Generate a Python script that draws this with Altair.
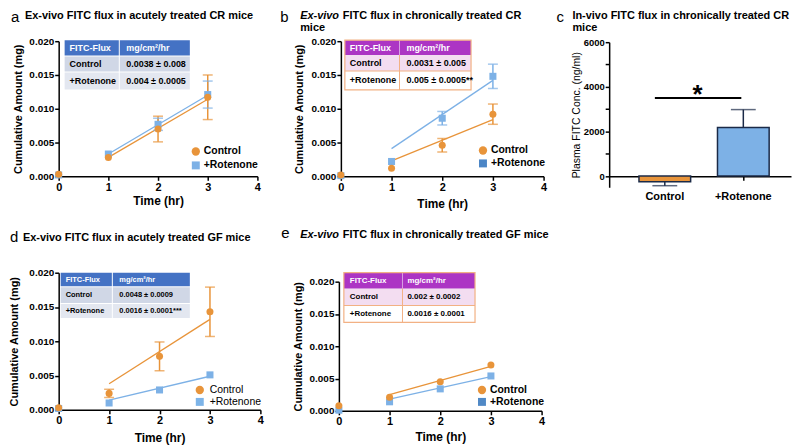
import altair as alt
import pandas as pd

FONT = "Liberation Sans"

# ---------------- data ----------------
hours = [0, 1, 2, 3]
fit_hours = [1, 3]
series = ["Control", "+Rotenone"]
table_head = ["FITC-Flux", "mg/cm²/hr"]

# panel a: ex-vivo, acutely treated CR mice
a_ctrl = [0.0003, 0.0028, 0.0070, 0.0117]
a_ctrl_err = [0.0, 0.0, 0.0019, 0.0033]
a_rot = [0.0002, 0.0033, 0.0077, 0.0121]
a_rot_err = [0.0, 0.0, 0.0009, 0.0020]
a_fit_ctrl = [0.0028, 0.0114]
a_fit_rot = [0.0033, 0.0120]
a_table = [["Control", "0.0038 ± 0.008"], ["+Rotenone", "0.004 ± 0.0005"]]

# panel b: ex-vivo, chronically treated CR mice
b_ctrl = [0.0002, 0.0012, 0.0046, 0.0092]
b_ctrl_err = [0.0, 0.0, 0.0010, 0.0015]
b_rot = [0.0001, 0.0022, 0.0086, 0.0148]
b_rot_err = [0.0, 0.0, 0.0010, 0.0018]
b_fit_ctrl = [0.0023, 0.0084]
b_fit_rot = [0.0041, 0.0142]
b_table = [["Control", "0.0031 ± 0.005"], ["+Rotenone", "0.005 ± 0.0005**"]]

# panel c: in-vivo plasma FITC
c_groups = ["Control", "+Rotenone"]
c_means = [-250, 2180]
c_err_ends = [-430, 2980]
c_sig_level = 3500

# panel d: ex-vivo, acutely treated GF mice
d_ctrl = [0.0003, 0.0024, 0.0078, 0.0143]
d_ctrl_err = [0.0, 0.0006, 0.0021, 0.0036]
d_rot = [0.0002, 0.0010, 0.0029, 0.0051]
d_rot_err = [0.0, 0.0, 0.0, 0.0]
d_fit_ctrl = [0.0038, 0.0132]
d_fit_rot = [0.0014, 0.0049]
d_table = [["Control", "0.0048 ± 0.0009"], ["+Rotenone", "0.0016 ± 0.0001***"]]

# panel e: ex-vivo, chronically treated GF mice
e_ctrl = [0.0008, 0.0021, 0.0045, 0.0071]
e_ctrl_err = [0.0, 0.0, 0.0, 0.0]
e_rot = [0.0001, 0.0014, 0.0034, 0.0054]
e_rot_err = [0.0, 0.0, 0.0, 0.0]
e_fit_ctrl = [0.0025, 0.0069]
e_fit_rot = [0.0018, 0.0053]
e_table = [["Control", "0.002 ± 0.0002"], ["+Rotenone", "0.0016 ± 0.0001"]]

ORANGE = "#E8943A"

AX = dict(labelFont=FONT, labelFontWeight="bold", labelColor="black",
          titleFont=FONT, titleFontWeight="bold", titleColor="black",
          domainColor="black", domainWidth=1.5, tickColor="black",
          tickWidth=1.5, tickSize=4, grid=False, labelOverlap=False)


def txt(s, x, y, size=11, weight="bold", style="normal", color="black",
        align="left", baseline="middle"):
    return alt.Chart(pd.DataFrame({"t": [s]})).mark_text(
        align=align, baseline=baseline, font=FONT, fontSize=size,
        fontWeight=weight, fontStyle=style, color=color
    ).encode(x=alt.value(x), y=alt.value(y), text="t:N")


def box(x0, x1, y0, y1, fill=None, stroke=None, sw=1.0):
    kw = {}
    if fill is not None:
        kw["fill"] = fill
    else:
        kw["fillOpacity"] = 0
    if stroke is not None:
        kw["stroke"] = stroke
        kw["strokeWidth"] = sw
    return alt.Chart(pd.DataFrame({"k": [0]})).mark_rect(**kw).encode(
        x=alt.value(x0), x2=alt.value(x1), y=alt.value(y0), y2=alt.value(y1))


def frame(x0, x1, y0, y1):
    return alt.Chart(pd.DataFrame({"k": [0]})).mark_rect(opacity=0).encode(
        x=alt.value(x0), x2=alt.value(x1), y=alt.value(y0), y2=alt.value(y1))


def table_layers(rows, style, x0, x1, xdiv, ys, tx, fsize):
    layers = []
    if style == "blue":
        head, fills = "#4472C4", ["#D0D7E6", "#E3E7F0"]
        layers.append(box(x0, xdiv - 0.5, ys[0], ys[1] - 0.5, head))
        layers.append(box(xdiv + 0.5, x1, ys[0], ys[1] - 0.5, head))
        for i in range(2):
            layers.append(box(x0, xdiv - 0.5, ys[i + 1] + 0.5, ys[i + 2] - 0.5, fills[i]))
            layers.append(box(xdiv + 0.5, x1, ys[i + 1] + 0.5, ys[i + 2] - 0.5, fills[i]))
    else:
        head, border = "#AC35C4", "#F2B184"
        layers.append(box(x0, x1, ys[1], ys[2], "#F3DDF1"))
        layers.append(box(x0, x1, ys[2], ys[3], "#FFFFFF"))
        layers.append(box(x0, x1, ys[0], ys[1], head))
        layers.append(box(xdiv - 0.5, xdiv + 0.5, ys[0], ys[1], "#D9A0E4"))
        layers.append(box(xdiv - 0.5, xdiv + 0.5, ys[1], ys[3], border))
        layers.append(box(x0, x1, ys[2] - 0.5, ys[2] + 0.5, border))
        layers.append(box(x0, x1, ys[0], ys[3], None, border, 1.2))
    mids = [(ys[i] + ys[i + 1]) / 2 for i in range(3)]
    layers.append(txt(table_head[0], tx[0], mids[0], fsize, color="white"))
    layers.append(txt(table_head[1], tx[1], mids[0], fsize, color="white"))
    for i, r in enumerate(rows):
        layers.append(txt(r[0], tx[0], mids[i + 1], fsize))
        layers.append(txt(r[1], tx[1], mids[i + 1], fsize))
    return layers


def curve_panel(p):
    recs = []
    for name, m, e in [("+Rotenone", p["rot"], p["rot_err"]), ("Control", p["ctrl"], p["ctrl_err"])]:
        for h, mv, ev in zip(hours, m, e):
            recs.append({"hour": h, "series": name, "mean": mv, "err": ev,
                         "lo": mv - ev, "hi": mv + ev})
    df = pd.DataFrame(recs)
    fits = []
    for name, f in [("+Rotenone", p["fit_rot"]), ("Control", p["fit_ctrl"])]:
        for h, v in zip(fit_hours, f):
            fits.append({"hour": h, "series": name, "mean": v})
    fdf = pd.DataFrame(fits)

    xs = alt.Scale(domain=[0, 4], nice=False)
    ysk = dict(domain=[0, 0.02], nice=False)
    if "yrange" in p:
        ysk["range"] = p["yrange"]
    ys = alt.Scale(**ysk)
    col = alt.Color("series:N", scale=alt.Scale(domain=series, range=[ORANGE, p["blue"]]), legend=None)
    xax = alt.Axis(values=[0, 1, 2, 3, 4], format="d", title="Time (hr)", labelFontSize=11,
                   titleFontSize=12, labelPadding=1, titlePadding=p["xtp"], labelFlush=False, **AX)
    yax = alt.Axis(values=[0, 0.005, 0.01, 0.015, 0.02], format=".3f", title="Cumulative Amount (mg)",
                   labelFontSize=10, titleFontSize=11, labelPadding=1, titlePadding=p["ytp"], **AX)

    def X():
        return alt.X("hour:Q", scale=xs, axis=xax)

    def Y(f):
        return alt.Y(f + ":Q", scale=ys, axis=yax)

    lines = alt.Chart(fdf).mark_line(strokeWidth=1.3).encode(
        x=X(), y=Y("mean"), color=col, detail="series:N")
    edf = df[df["err"] > 0]
    layers_data = [lines]
    if len(edf):
        layers_data += [
            alt.Chart(edf).mark_rule(strokeWidth=1.5).encode(x=X(), y=Y("lo"), y2="hi:Q", color=col),
            alt.Chart(edf).mark_tick(orient="horizontal", size=10, thickness=1.5).encode(
                x=X(), y=Y("lo"), color=col),
            alt.Chart(edf).mark_tick(orient="horizontal", size=10, thickness=1.5).encode(
                x=X(), y=Y("hi"), color=col),
        ]
    pts = alt.Chart(df).mark_point(filled=True, opacity=1, size=p.get("msize", 50)).encode(
        x=X(), y=Y("mean"), color=col,
        shape=alt.Shape("series:N", scale=alt.Scale(domain=series, range=["circle", "square"]), legend=None))
    layers_data.append(pts)

    L = p["legend"]
    leg = [
        alt.Chart(pd.DataFrame({"k": [0]})).mark_point(shape="circle", filled=True, opacity=1, size=70,
                                                        color=ORANGE).encode(x=alt.value(L[0]), y=alt.value(L[2])),
        alt.Chart(pd.DataFrame({"k": [0]})).mark_point(shape="square", filled=True, opacity=1, size=64,
                                                        color=p["blue"]).encode(x=alt.value(L[0]), y=alt.value(L[3])),
        txt("Control", L[1], L[2], 10.5, weight=p.get("legw", "bold")),
        txt("+Rotenone", L[1], L[3], 10.5, weight=p.get("legw", "bold")),
    ]
    T = p["table"]
    tbl = table_layers(T["rows"], T["style"], T["x0"], T["x1"], T["xdiv"], T["ys"], T["tx"], T["fs"])
    F = p["frame"]
    titles = [txt(*t[:3], **t[3]) for t in p["titles"]]
    layers = [frame(*F)] + layers_data + tbl + leg + titles
    return alt.layer(*layers).properties(width=p["w"], height=p["h"])


LET = dict(size=15, weight="normal", baseline="top")
TOP = dict(baseline="top")
T1 = -31   # top edge of the first title line (row 1)

pa = dict(ctrl=a_ctrl, ctrl_err=a_ctrl_err, rot=a_rot, rot_err=a_rot_err,
          fit_ctrl=a_fit_ctrl, fit_rot=a_fit_rot, blue="#7DB1E6", w=200, h=136, xtp=3, ytp=5,
          frame=(-48, 213, T1, 183), legend=(138, 146, 111, 125),
          table=dict(rows=a_table, style="blue", x0=6, x1=132, xdiv=61, ys=[-1, 15, 31, 49], tx=[11, 68], fs=9),
          titles=[("a", -48, T1, LET),
                  ("Ex-vivo FITC flux in acutely treated CR mice", -34, T1, TOP)])
pb = dict(ctrl=b_ctrl, ctrl_err=b_ctrl_err, rot=b_rot, rot_err=b_rot_err,
          fit_ctrl=b_fit_ctrl, fit_rot=b_fit_rot, blue="#4C86C6", w=204, h=136, xtp=6, ytp=7,
          frame=(-69, 211, T1, 183), legend=(143, 151, 110, 123),
          table=dict(rows=b_table, style="purple", x0=4, x1=131, xdiv=59, ys=[-1, 14, 30, 49], tx=[9, 66], fs=9),
          titles=[("b", -61, T1, LET),
                  ("Ex-vivo", -41, T1, dict(style="italic", baseline="top")),
                  ("FITC flux in chronically treated CR", 2, T1, TOP),
                  ("mice", -41, T1 + 12, TOP)])
pd_ = dict(ctrl=d_ctrl, ctrl_err=d_ctrl_err, rot=d_rot, rot_err=d_rot_err,
           fit_ctrl=d_fit_ctrl, fit_rot=d_fit_rot, blue="#7DB4E8", w=203, h=138, xtp=7, ytp=9,
           frame=(-50, 211, -48, 175), legend=(142, 152, 118, 130), legw="normal",
           table=dict(rows=d_table, style="blue", x0=2, x1=132, xdiv=54, ys=[0, 14, 31, 46], tx=[7, 61], fs=7.5),
           titles=[("d", -49, -31, dict(size=15, weight="normal", baseline="alphabetic")),
                   ("Ex-vivo FITC flux in acutely treated GF mice", -36, -35, {})])
pe = dict(ctrl=e_ctrl, ctrl_err=e_ctrl_err, rot=e_rot, rot_err=e_rot_err,
          fit_ctrl=e_fit_ctrl, fit_rot=e_fit_rot, blue="#5089C6", w=204, h=139, yrange=[139, 9], xtp=5, ytp=6,
          frame=(-69, 219, -48, 175), legend=(144, 152, 118, 130),
          table=dict(rows=e_table, style="purple", x0=5, x1=137, xdiv=64, ys=[0, 16, 33, 50], tx=[11, 69], fs=8),
          titles=[("e", -58, -35, dict(size=15, weight="normal", baseline="alphabetic")),
                  ("Ex-vivo", -39, -38, dict(style="italic")),
                  ("FITC flux in chronically treated GF mice", 4, -38, {})])

chart_a = curve_panel(pa)
chart_b = curve_panel(pb)
chart_d = curve_panel(pd_)
chart_e = curve_panel(pe)

# ---------------- panel c ----------------
cdf = pd.DataFrame({"group": c_groups, "mean": c_means, "end": c_err_ends})
cx = alt.Scale(domain=c_groups, paddingInner=0.342, paddingOuter=0.329, align=0.577)
cy = alt.Scale(domain=[-500, 6000], nice=False, range=[147, 1])
cyax = alt.Axis(values=[0, 1000, 2000, 3000, 4000, 5000, 6000],
                labelExpr="datum.value % 2000 === 0 ? datum.label : ''",
                format="d", title="Plasma FITC Conc. (ng/ml)", labelFontSize=9.5, titleFontSize=10.5,
                titleFontWeight="normal", labelPadding=1, titlePadding=2,
                **{k: v for k, v in AX.items() if k != "titleFontWeight"})
cxax = alt.Axis(title=None, labelAngle=0, labelFontSize=11, labelPadding=10, offset=-11, **AX)
CX = alt.X("group:N", scale=cx, axis=cxax, sort=c_groups)
c_bar = alt.Chart(cdf).mark_bar(stroke="#1B2A47", strokeWidth=1.5).encode(
    x=CX, y=alt.Y("mean:Q", scale=cy, axis=cyax),
    color=alt.Color("group:N", scale=alt.Scale(domain=c_groups, range=["#F5A54A", "#7EA6DA"]), legend=None))
c_err = alt.Chart(cdf).mark_rule(strokeWidth=1.5, color="#1B2A47").encode(
    x=CX, y=alt.Y("mean:Q", scale=cy, axis=cyax), y2="end:Q")
c_cap = alt.Chart(cdf).mark_tick(orient="horizontal", size=25, thickness=1.5, color="#1B2A47").encode(
    x=CX, y=alt.Y("end:Q", scale=cy, axis=cyax))
c_sig = alt.Chart(pd.DataFrame({"v": [c_sig_level]})).mark_rule(strokeWidth=2, color="black").encode(
    x=alt.value(46), x2=alt.value(133), y=alt.Y("v:Q", scale=cy, axis=cyax))
c_star = txt("*", 89, 62, 26, align="center", baseline="alphabetic")
chart_c = alt.layer(
    frame(-57, 183, T1, 183), c_bar, c_err, c_cap, c_sig, c_star,
    txt("c", -53, T1, **LET),
    txt("In-vivo FITC flux in chronically treated CR", -37, T1, baseline="top"),
    txt("mice", -37, T1 + 12, baseline="top"),
).properties(width=183, height=147)

row1 = alt.hconcat(chart_a, chart_b, chart_c, spacing=0)
row2 = alt.hconcat(chart_d, chart_e, spacing=0)
chart = alt.vconcat(row1, row2, spacing=0).properties(padding=0, background="white").configure_view(
    stroke="transparent")

chart.save("out.html", embed_options={"renderer": "svg", "actions": False})
